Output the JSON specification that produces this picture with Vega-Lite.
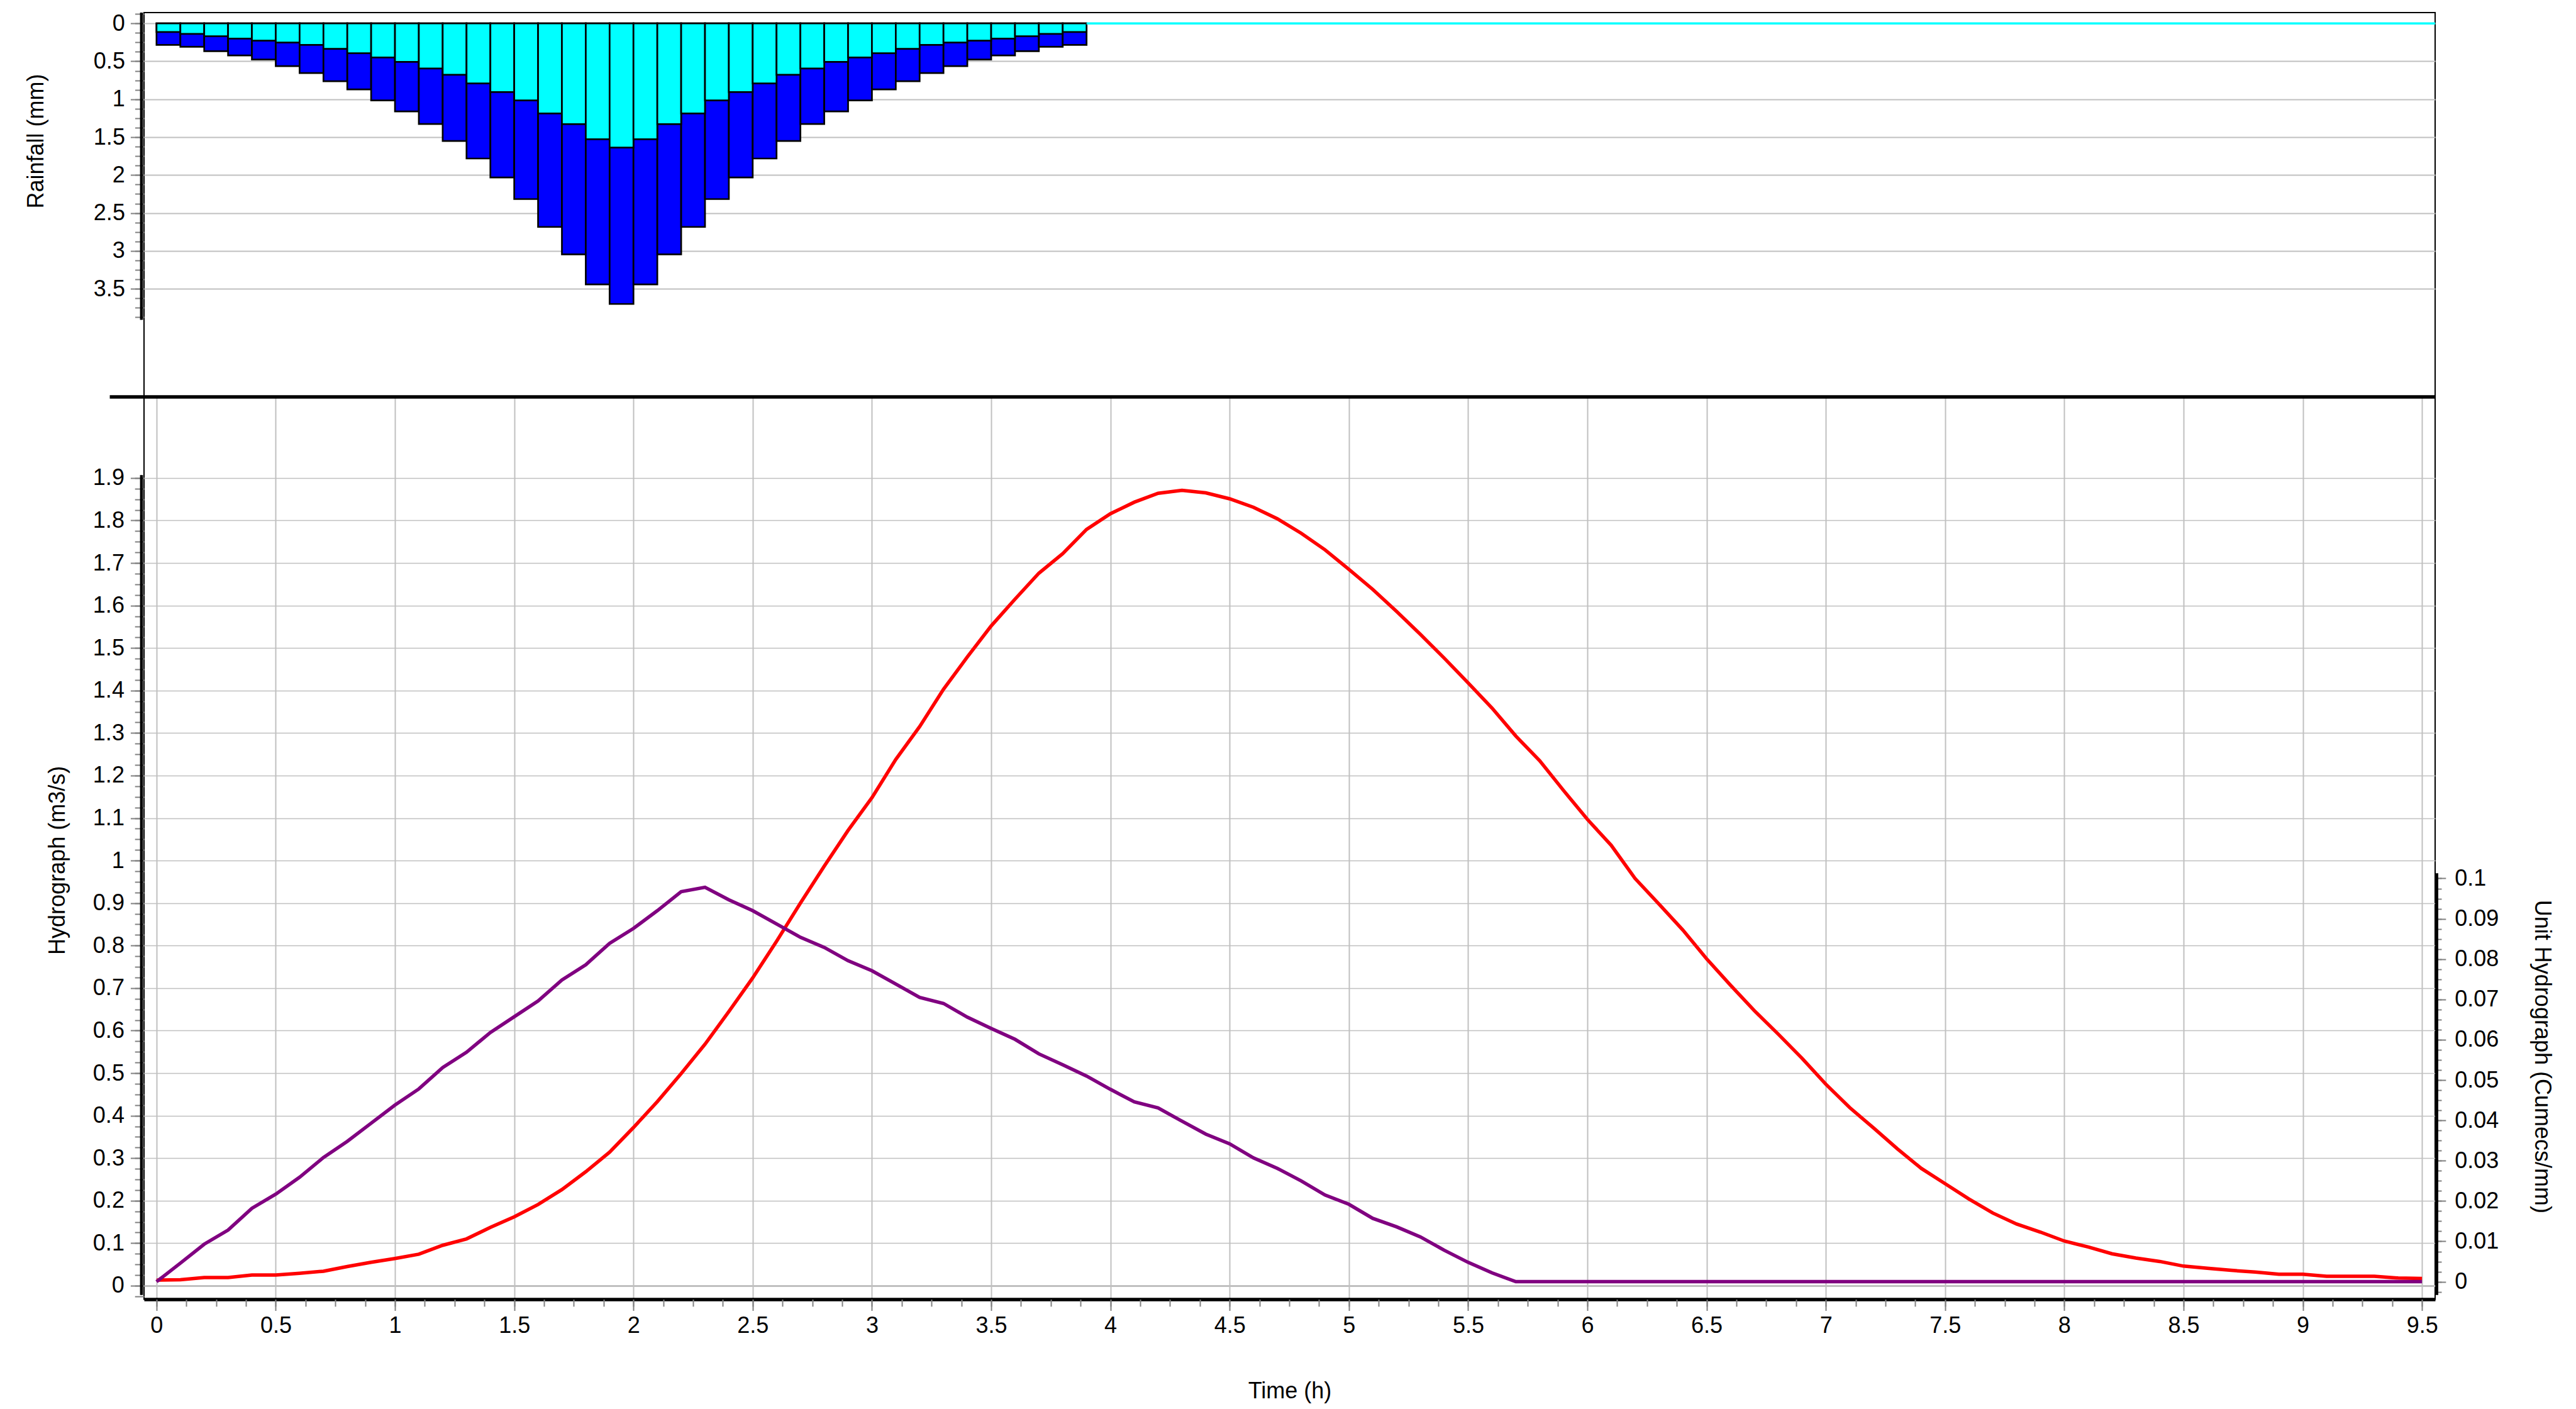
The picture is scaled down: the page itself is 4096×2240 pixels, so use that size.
{
  "$schema": "https://vega.github.io/schema/vega-lite/v6.json",
  "background": "white",
  "padding": {"left": 37, "top": 16, "right": 4, "bottom": 4},
  "spacing": 0,
  "bounds": "flush",
  "config": {
    "view": {"stroke": "black", "strokeWidth": 2},
    "axis": {
      "labelFont": "Liberation Sans",
      "titleFont": "Liberation Sans",
      "labelFontSize": 36,
      "titleFontSize": 36,
      "titleFontWeight": "normal",
      "labelColor": "black",
      "titleColor": "black",
      "tickColor": "#808080",
      "tickWidth": 2,
      "gridColor": "#c0c0c0",
      "gridWidth": 2,
      "gridOpacity": 1,
      "domain": false,
      "labelOverlap": false,
      "labelFlush": false,
      "labelBound": false,
      "format": "~g"
    }
  },
  "datasets": {
    "rain": [
      {"t0": 0.0, "t1": 0.1, "excess": 0.114, "total": 0.283},
      {"t0": 0.1, "t1": 0.2, "excess": 0.139, "total": 0.308},
      {"t0": 0.2, "t1": 0.3, "excess": 0.169, "total": 0.366},
      {"t0": 0.3, "t1": 0.4, "excess": 0.2, "total": 0.422},
      {"t0": 0.4, "t1": 0.5, "excess": 0.228, "total": 0.477},
      {"t0": 0.5, "t1": 0.6, "excess": 0.253, "total": 0.563},
      {"t0": 0.6, "t1": 0.7, "excess": 0.283, "total": 0.655},
      {"t0": 0.7, "t1": 0.8, "excess": 0.336, "total": 0.763},
      {"t0": 0.8, "t1": 0.9, "excess": 0.394, "total": 0.871},
      {"t0": 0.9, "t1": 1.0, "excess": 0.45, "total": 1.016},
      {"t0": 1.0, "t1": 1.1, "excess": 0.508, "total": 1.16},
      {"t0": 1.1, "t1": 1.2, "excess": 0.594, "total": 1.327},
      {"t0": 1.2, "t1": 1.3, "excess": 0.677, "total": 1.551},
      {"t0": 1.3, "t1": 1.4, "excess": 0.791, "total": 1.782},
      {"t0": 1.4, "t1": 1.5, "excess": 0.905, "total": 2.032},
      {"t0": 1.5, "t1": 1.6, "excess": 1.016, "total": 2.317},
      {"t0": 1.6, "t1": 1.7, "excess": 1.188, "total": 2.684},
      {"t0": 1.7, "t1": 1.8, "excess": 1.329, "total": 3.045},
      {"t0": 1.8, "t1": 1.9, "excess": 1.527, "total": 3.442},
      {"t0": 1.9, "t1": 2.0, "excess": 1.638, "total": 3.7},
      {"t0": 2.0, "t1": 2.1, "excess": 1.527, "total": 3.442},
      {"t0": 2.1, "t1": 2.2, "excess": 1.329, "total": 3.045},
      {"t0": 2.2, "t1": 2.3, "excess": 1.188, "total": 2.684},
      {"t0": 2.3, "t1": 2.4, "excess": 1.016, "total": 2.317},
      {"t0": 2.4, "t1": 2.5, "excess": 0.905, "total": 2.032},
      {"t0": 2.5, "t1": 2.6, "excess": 0.791, "total": 1.782},
      {"t0": 2.6, "t1": 2.7, "excess": 0.677, "total": 1.551},
      {"t0": 2.7, "t1": 2.8, "excess": 0.594, "total": 1.327},
      {"t0": 2.8, "t1": 2.9, "excess": 0.508, "total": 1.16},
      {"t0": 2.9, "t1": 3.0, "excess": 0.45, "total": 1.016},
      {"t0": 3.0, "t1": 3.1, "excess": 0.394, "total": 0.871},
      {"t0": 3.1, "t1": 3.2, "excess": 0.336, "total": 0.763},
      {"t0": 3.2, "t1": 3.3, "excess": 0.283, "total": 0.655},
      {"t0": 3.3, "t1": 3.4, "excess": 0.253, "total": 0.563},
      {"t0": 3.4, "t1": 3.5, "excess": 0.228, "total": 0.477},
      {"t0": 3.5, "t1": 3.6, "excess": 0.2, "total": 0.422},
      {"t0": 3.6, "t1": 3.7, "excess": 0.169, "total": 0.366},
      {"t0": 3.7, "t1": 3.8, "excess": 0.139, "total": 0.308},
      {"t0": 3.8, "t1": 3.9, "excess": 0.114, "total": 0.283}
    ],
    "flow": [
      {"t": 0.0, "q": 0.013, "uh": 0},
      {"t": 0.1, "q": 0.014, "uh": 0.0046},
      {"t": 0.2, "q": 0.019, "uh": 0.0093},
      {"t": 0.3, "q": 0.019, "uh": 0.0128},
      {"t": 0.4, "q": 0.025, "uh": 0.0182},
      {"t": 0.5, "q": 0.025, "uh": 0.0217},
      {"t": 0.6, "q": 0.029, "uh": 0.0259},
      {"t": 0.7, "q": 0.034, "uh": 0.0308},
      {"t": 0.8, "q": 0.045, "uh": 0.0348},
      {"t": 0.9, "q": 0.055, "uh": 0.0393},
      {"t": 1.0, "q": 0.064, "uh": 0.0438},
      {"t": 1.1, "q": 0.074, "uh": 0.0478},
      {"t": 1.2, "q": 0.095, "uh": 0.0531},
      {"t": 1.3, "q": 0.11, "uh": 0.0569},
      {"t": 1.4, "q": 0.137, "uh": 0.0618},
      {"t": 1.5, "q": 0.162, "uh": 0.0657},
      {"t": 1.6, "q": 0.191, "uh": 0.0696},
      {"t": 1.7, "q": 0.226, "uh": 0.0748},
      {"t": 1.8, "q": 0.268, "uh": 0.0786},
      {"t": 1.9, "q": 0.314, "uh": 0.0839},
      {"t": 2.0, "q": 0.372, "uh": 0.0876},
      {"t": 2.1, "q": 0.433, "uh": 0.092},
      {"t": 2.2, "q": 0.499, "uh": 0.0967},
      {"t": 2.3, "q": 0.568, "uh": 0.0978},
      {"t": 2.4, "q": 0.645, "uh": 0.0947},
      {"t": 2.5, "q": 0.724, "uh": 0.092},
      {"t": 2.6, "q": 0.81, "uh": 0.0887},
      {"t": 2.7, "q": 0.9, "uh": 0.0854},
      {"t": 2.8, "q": 0.987, "uh": 0.0829},
      {"t": 2.9, "q": 1.071, "uh": 0.0796},
      {"t": 3.0, "q": 1.148, "uh": 0.0771},
      {"t": 3.1, "q": 1.238, "uh": 0.0738},
      {"t": 3.2, "q": 1.315, "uh": 0.0705},
      {"t": 3.3, "q": 1.403, "uh": 0.069},
      {"t": 3.4, "q": 1.479, "uh": 0.0656},
      {"t": 3.5, "q": 1.552, "uh": 0.0628},
      {"t": 3.6, "q": 1.615, "uh": 0.0601},
      {"t": 3.7, "q": 1.676, "uh": 0.0565},
      {"t": 3.8, "q": 1.722, "uh": 0.0538},
      {"t": 3.9, "q": 1.779, "uh": 0.051},
      {"t": 4.0, "q": 1.816, "uh": 0.0477},
      {"t": 4.1, "q": 1.843, "uh": 0.0446},
      {"t": 4.2, "q": 1.864, "uh": 0.0431},
      {"t": 4.3, "q": 1.871, "uh": 0.0398},
      {"t": 4.4, "q": 1.865, "uh": 0.0366},
      {"t": 4.5, "q": 1.851, "uh": 0.0342},
      {"t": 4.6, "q": 1.831, "uh": 0.0307},
      {"t": 4.7, "q": 1.804, "uh": 0.0281},
      {"t": 4.8, "q": 1.77, "uh": 0.025},
      {"t": 4.9, "q": 1.731, "uh": 0.0215},
      {"t": 5.0, "q": 1.685, "uh": 0.0192},
      {"t": 5.1, "q": 1.638, "uh": 0.0157},
      {"t": 5.2, "q": 1.586, "uh": 0.0136},
      {"t": 5.3, "q": 1.532, "uh": 0.0111},
      {"t": 5.4, "q": 1.476, "uh": 0.0078},
      {"t": 5.5, "q": 1.418, "uh": 0.0048},
      {"t": 5.6, "q": 1.359, "uh": 0.0022},
      {"t": 5.7, "q": 1.293, "uh": 0},
      {"t": 5.8, "q": 1.235, "uh": 0},
      {"t": 5.9, "q": 1.165, "uh": 0},
      {"t": 6.0, "q": 1.097, "uh": 0},
      {"t": 6.1, "q": 1.036, "uh": 0},
      {"t": 6.2, "q": 0.958, "uh": 0},
      {"t": 6.3, "q": 0.898, "uh": 0},
      {"t": 6.4, "q": 0.837, "uh": 0},
      {"t": 6.5, "q": 0.769, "uh": 0},
      {"t": 6.6, "q": 0.707, "uh": 0},
      {"t": 6.7, "q": 0.647, "uh": 0},
      {"t": 6.8, "q": 0.592, "uh": 0},
      {"t": 6.9, "q": 0.535, "uh": 0},
      {"t": 7.0, "q": 0.474, "uh": 0},
      {"t": 7.1, "q": 0.419, "uh": 0},
      {"t": 7.2, "q": 0.371, "uh": 0},
      {"t": 7.3, "q": 0.322, "uh": 0},
      {"t": 7.4, "q": 0.276, "uh": 0},
      {"t": 7.5, "q": 0.24, "uh": 0},
      {"t": 7.6, "q": 0.204, "uh": 0},
      {"t": 7.7, "q": 0.171, "uh": 0},
      {"t": 7.8, "q": 0.145, "uh": 0},
      {"t": 7.9, "q": 0.126, "uh": 0},
      {"t": 8.0, "q": 0.105, "uh": 0},
      {"t": 8.1, "q": 0.091, "uh": 0},
      {"t": 8.2, "q": 0.075, "uh": 0},
      {"t": 8.3, "q": 0.065, "uh": 0},
      {"t": 8.4, "q": 0.057, "uh": 0},
      {"t": 8.5, "q": 0.046, "uh": 0},
      {"t": 8.6, "q": 0.041, "uh": 0},
      {"t": 8.7, "q": 0.036, "uh": 0},
      {"t": 8.8, "q": 0.032, "uh": 0},
      {"t": 8.9, "q": 0.027, "uh": 0},
      {"t": 9.0, "q": 0.027, "uh": 0},
      {"t": 9.1, "q": 0.022, "uh": 0},
      {"t": 9.2, "q": 0.022, "uh": 0},
      {"t": 9.3, "q": 0.022, "uh": 0},
      {"t": 9.4, "q": 0.018, "uh": 0},
      {"t": 9.5, "q": 0.017, "uh": 0}
    ]
  },
  "vconcat": [
    {
      "width": 3643,
      "height": 610.1,
      "data": {"name": "rain"},
      "resolve": {"axis": {"y": "independent"}},
      "layer": [
        {
          "mark": {"type": "bar", "fill": "#0000ff", "stroke": "black", "strokeWidth": 2.7},
          "encoding": {
            "x": {
              "field": "t0", "type": "quantitative",
              "scale": {"domain": [-0.0524, 9.555], "nice": false, "zero": false},
              "axis": {"title": null, "labels": false, "ticks": false, "grid": true,
                       "values": [0, 0.5, 1, 1.5, 2, 2.5, 3, 3.5, 4, 4.5, 5, 5.5, 6, 6.5, 7, 7.5, 8, 8.5, 9, 9.5]}
            },
            "x2": {"field": "t1"},
            "y": {
              "field": "total", "type": "quantitative",
              "scale": {"domain": [-0.1425, 4.918], "reverse": true, "nice": false, "zero": false},
              "axis": {"orient": "left", "title": "Rainfall (mm)", "titleX": -172, "titleY": 204,
                       "titleBaseline": "middle", "titleAngle": -90,
                       "values": [0, 0.5, 1, 1.5, 2, 2.5, 3, 3.5], "grid": true,
                       "tickSize": 21.6, "labelPadding": 9}
            },
            "y2": {"datum": 0}
          }
        },
        {
          "mark": {"type": "bar", "fill": "#00ffff", "stroke": "black", "strokeWidth": 2.7},
          "encoding": {
            "x": {"field": "t0", "type": "quantitative", "scale": {"domain": [-0.0524, 9.555], "nice": false, "zero": false}, "axis": null},
            "x2": {"field": "t1"},
            "y": {
              "field": "excess", "type": "quantitative",
              "scale": {"domain": [-0.1425, 4.918], "reverse": true, "nice": false, "zero": false},
              "axis": {"orient": "left", "title": null, "labels": false, "grid": false, "tickSize": 14.5,
                       "values": [-0.125, 0, 0.125, 0.25, 0.375, 0.5, 0.625, 0.75, 0.875, 1, 1.125, 1.25, 1.375, 1.5, 1.625, 1.75, 1.875, 2, 2.125, 2.25, 2.375, 2.5, 2.625, 2.75, 2.875, 3, 3.125, 3.25, 3.375, 3.5, 3.625, 3.75, 3.875]}
            },
            "y2": {"datum": 0}
          }
        },
        {
          "data": {"values": [{}]},
          "mark": {"type": "rule", "color": "#00ffff", "strokeWidth": 3.4},
          "encoding": {
            "x": {"datum": 3.9, "scale": {"domain": [-0.0524, 9.555], "nice": false, "zero": false}, "axis": null},
            "x2": {"datum": 9.555},
            "y": {"datum": 0, "scale": {"domain": [-0.1425, 4.918], "reverse": true, "nice": false, "zero": false}, "axis": null}
          }
        },
        {
          "data": {"values": [{}]},
          "mark": {"type": "rule", "color": "black", "strokeWidth": 4.7},
          "encoding": {
            "x": {"datum": -0.063, "scale": {"domain": [-0.0524, 9.555], "nice": false, "zero": false}, "axis": null},
            "y": {"datum": -0.1425, "scale": {"domain": [-0.1425, 4.918], "reverse": true, "nice": false, "zero": false}, "axis": null},
            "y2": {"datum": 3.91}
          }
        }
      ]
    },
    {
      "width": 3643,
      "height": 1434.5,
      "data": {"name": "flow"},
      "resolve": {"scale": {"y": "independent"}, "axis": {"x": "independent", "y": "independent"}},
      "layer": [
        {
          "mark": {"type": "line", "color": "#ff0000", "strokeWidth": 5.5},
          "encoding": {
            "x": {
              "field": "t", "type": "quantitative",
              "scale": {"domain": [-0.0524, 9.555], "nice": false, "zero": false},
              "axis": {"orient": "bottom", "title": "Time (h)", "titleY": 145.5, "titleBaseline": "middle",
                       "values": [0, 0.5, 1, 1.5, 2, 2.5, 3, 3.5, 4, 4.5, 5, 5.5, 6, 6.5, 7, 7.5, 8, 8.5, 9, 9.5],
                       "grid": true, "tickSize": 18, "labelPadding": 7,
                       "domain": true, "domainColor": "black", "domainWidth": 5.4}
            },
            "y": {
              "field": "q", "type": "quantitative",
              "scale": {"domain": [-0.0319, 2.0907], "nice": false, "zero": false},
              "axis": {"orient": "left", "title": "Hydrograph (m3/s)", "titleX": -137.8, "titleY": 736.4,
                       "titleBaseline": "middle", "titleAngle": -90,
                       "values": [0, 0.1, 0.2, 0.3, 0.4, 0.5, 0.6, 0.7, 0.8, 0.9, 1, 1.1, 1.2, 1.3, 1.4, 1.5, 1.6, 1.7, 1.8, 1.9],
                       "grid": true,
                       "gridWidth": {"condition": {"test": "datum.value === 0", "value": 3.2}, "value": 1.6},
                       "tickSize": 21.6, "labelPadding": 10}
            }
          }
        },
        {
          "mark": {"type": "line", "color": "#800080", "strokeWidth": 5.5},
          "encoding": {
            "x": {
              "field": "t", "type": "quantitative",
              "scale": {"domain": [-0.0524, 9.555], "nice": false, "zero": false},
              "axis": {"orient": "bottom", "title": null, "labels": false, "grid": false, "tickSize": 11.3,
                       "values": [0, 0.125, 0.25, 0.375, 0.5, 0.625, 0.75, 0.875, 1, 1.125, 1.25, 1.375, 1.5, 1.625, 1.75, 1.875, 2, 2.125, 2.25, 2.375, 2.5, 2.625, 2.75, 2.875, 3, 3.125, 3.25, 3.375, 3.5, 3.625, 3.75, 3.875, 4, 4.125, 4.25, 4.375, 4.5, 4.625, 4.75, 4.875, 5, 5.125, 5.25, 5.375, 5.5, 5.625, 5.75, 5.875, 6, 6.125, 6.25, 6.375, 6.5, 6.625, 6.75, 6.875, 7, 7.125, 7.25, 7.375, 7.5, 7.625, 7.75, 7.875, 8, 8.125, 8.25, 8.375, 8.5, 8.625, 8.75, 8.875, 9, 9.125, 9.25, 9.375, 9.5]}
            },
            "y": {
              "field": "uh", "type": "quantitative",
              "scale": {"domain": [-0.00435, 0.2194], "nice": false, "zero": false},
              "axis": {"orient": "right", "title": "Unit Hydrograph (Cumecs/mm)", "titleX": 169.7, "titleY": 1048.4,
                       "titleBaseline": "middle", "titleAngle": 90,
                       "values": [0, 0.01, 0.02, 0.03, 0.04, 0.05, 0.06, 0.07, 0.08, 0.09, 0.1],
                       "grid": false, "tickSize": 16.8, "labelPadding": 14}
            }
          }
        },
        {
          "data": {"values": [{}]},
          "mark": {"type": "rule", "color": "black", "strokeWidth": 4.7},
          "encoding": {
            "x": {"datum": -0.063, "scale": {"domain": [-0.0524, 9.555], "nice": false, "zero": false}, "axis": null},
            "y": {
              "datum": -0.022,
              "scale": {"domain": [-0.0319, 2.0907], "nice": false, "zero": false},
              "axis": {"orient": "left", "title": null, "labels": false, "grid": false, "tickSize": 14.8,
                       "values": [-0.025, 0, 0.025, 0.05, 0.075, 0.1, 0.125, 0.15, 0.175, 0.2, 0.225, 0.25, 0.275, 0.3, 0.325, 0.35, 0.375, 0.4, 0.425, 0.45, 0.475, 0.5, 0.525, 0.55, 0.575, 0.6, 0.625, 0.65, 0.675, 0.7, 0.725, 0.75, 0.775, 0.8, 0.825, 0.85, 0.875, 0.9, 0.925, 0.95, 0.975, 1, 1.025, 1.05, 1.075, 1.1, 1.125, 1.15, 1.175, 1.2, 1.225, 1.25, 1.275, 1.3, 1.325, 1.35, 1.375, 1.4, 1.425, 1.45, 1.475, 1.5, 1.525, 1.55, 1.575, 1.6, 1.625, 1.65, 1.675, 1.7, 1.725, 1.75, 1.775, 1.8, 1.825, 1.85, 1.875, 1.9]}
            },
            "y2": {"datum": 1.907}
          }
        },
        {
          "data": {"values": [{}]},
          "mark": {"type": "rule", "color": "black", "strokeWidth": 4.7},
          "encoding": {
            "x": {"datum": 9.562, "scale": {"domain": [-0.0524, 9.555], "nice": false, "zero": false}, "axis": null},
            "y": {
              "datum": -0.0033,
              "scale": {"domain": [-0.00435, 0.2194], "nice": false, "zero": false},
              "axis": {"orient": "right", "title": null, "labels": false, "grid": false, "tickSize": 10,
                       "values": [-0.0025, 0, 0.0025, 0.005, 0.0075, 0.01, 0.0125, 0.015, 0.0175, 0.02, 0.0225, 0.025, 0.0275, 0.03, 0.0325, 0.035, 0.0375, 0.04, 0.0425, 0.045, 0.0475, 0.05, 0.0525, 0.055, 0.0575, 0.06, 0.0625, 0.065, 0.0675, 0.07, 0.0725, 0.075, 0.0775, 0.08, 0.0825, 0.085, 0.0875, 0.09, 0.0925, 0.095, 0.0975, 0.1]}
            },
            "y2": {"datum": 0.1013}
          }
        },
        {
          "data": {"values": [{}]},
          "mark": {"type": "rule", "color": "black", "strokeWidth": 5.4},
          "encoding": {
            "x": {"datum": -0.196, "scale": {"domain": [-0.0524, 9.555], "nice": false, "zero": false}, "axis": null},
            "x2": {"datum": 9.555},
            "y": {"datum": 2.0907, "scale": {"domain": [-0.0319, 2.0907], "nice": false, "zero": false}, "axis": null}
          }
        }
      ]
    }
  ]
}
